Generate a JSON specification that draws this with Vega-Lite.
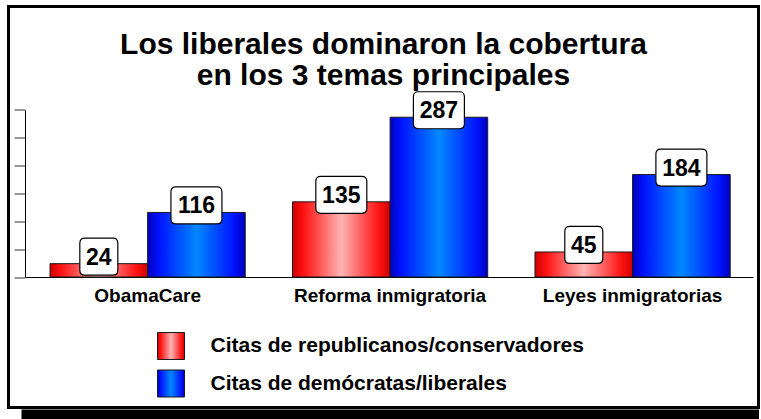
{
  "$schema": "https://vega.github.io/schema/vega-lite/v6.json",
  "width": 750,
  "height": 401,
  "autosize": "none",
  "padding": {"left": 8.5, "top": 6.5, "right": 2.5, "bottom": 11.5},
  "background": "white",
  "config": {
    "view": {"stroke": "black", "strokeWidth": 3, "fill": "white"},
    "font": "Liberation Sans"
  },
  "title": {
    "text": ["Los liberales dominaron la cobertura", "en los 3 temas principales"],
    "font": "Liberation Sans",
    "fontSize": 30,
    "fontWeight": "bold",
    "color": "black",
    "anchor": "middle",
    "lineHeight": 31,
    "baseline": "alphabetic",
    "offset": -108
  },
  "data": {
    "values": [
      {"tema": "ObamaCare", "serie": "Citas de republicanos/conservadores", "v": 24},
      {"tema": "ObamaCare", "serie": "Citas de demócratas/liberales", "v": 116},
      {"tema": "Reforma inmigratoria", "serie": "Citas de republicanos/conservadores", "v": 135},
      {"tema": "Reforma inmigratoria", "serie": "Citas de demócratas/liberales", "v": 287},
      {"tema": "Leyes inmigratorias", "serie": "Citas de republicanos/conservadores", "v": 45},
      {"tema": "Leyes inmigratorias", "serie": "Citas de demócratas/liberales", "v": 184}
    ]
  },
  "layer": [
    {
      "mark": {
        "type": "bar",
        "strokeWidth": 1,
        "fill": {"expr": "(datum.serie || datum.value) === 'Citas de republicanos/conservadores' ? {gradient: 'linear', x1: 0, y1: 0, x2: 1, y2: 0, stops: [{offset: 0, color: '#d00000'}, {offset: 0.12, color: '#ff1414'}, {offset: 0.5, color: '#ffb4b4'}, {offset: 0.88, color: '#ff1414'}, {offset: 1, color: '#d00000'}]} : {gradient: 'linear', x1: 0, y1: 0, x2: 1, y2: 0, stops: [{offset: 0, color: '#0000c0'}, {offset: 0.12, color: '#0014ff'}, {offset: 0.5, color: '#0088ff'}, {offset: 0.88, color: '#0014ff'}, {offset: 1, color: '#0000c0'}]}"}
      },
      "encoding": {
        "x": {
          "field": "tema", "type": "nominal", "sort": null,
          "scale": {"type": "band", "paddingInner": 0.195, "paddingOuter": 0.144, "align": 0.5946},
          "axis": {
            "title": null, "orient": "bottom", "offset": -130.5, "ticks": false, "tickSize": 0,
            "labelFont": "Liberation Sans", "labelFontSize": 19, "labelFontWeight": "bold",
            "labelColor": "black", "labelPadding": 9, "labelAngle": 0, "labelLimit": 0,
            "domainColor": "black", "domainWidth": 1, "domainDash": [0, 16.5, 728, 2000], "grid": false
          }
        },
        "xOffset": {"field": "serie", "type": "nominal", "sort": ["Citas de republicanos/conservadores", "Citas de demócratas/liberales"]},
        "y": {
          "field": "v", "type": "quantitative",
          "scale": {"domain": [-234.4, 485.9], "nice": false, "zero": false},
          "axis": {
            "title": null, "orient": "left", "offset": -16.5, "values": [0, 50, 100, 150, 200, 250, 300],
            "labels": false, "tickSize": 11, "tickColor": "#333333", "tickWidth": 1,
            "domainColor": "black", "domainWidth": 1, "domainDash": [0, 130.5, 167, 2000], "grid": false
          }
        },
        "y2": {"datum": 0},
        "stroke": {
          "field": "serie", "type": "nominal",
          "scale": {
            "domain": ["Citas de republicanos/conservadores", "Citas de demócratas/liberales"],
            "range": ["#1a1a1a", "#1a1a1a"]
          },
          "legend": {
            "orient": "none", "legendX": 148.5, "legendY": 325.5, "title": null,
            "symbolType": "square", "symbolSize": 729, "symbolStrokeWidth": 1, "symbolOpacity": 1,
            "labelFont": "Liberation Sans", "labelFontSize": 21, "labelFontWeight": "bold",
            "labelColor": "black", "labelOffset": 25.5, "rowPadding": 5.5, "padding": 0, "labelLimit": 0
          }
        }
      }
    },
    {
      "mark": {"type": "point", "filled": true, "fill": "white", "stroke": "black", "strokeWidth": 1.2, "opacity": 1, "size": 1369, "yOffset": -7},
      "encoding": {
        "x": {
          "field": "tema", "type": "nominal", "sort": null,
          "axis": {"orient": "bottom", "offset": 7, "labels": false, "ticks": false, "title": null,
                   "domainColor": "black", "domainWidth": 11, "domainDash": [0, 12.5, 800], "grid": false}
        },
        "xOffset": {"field": "serie", "type": "nominal", "sort": ["Citas de republicanos/conservadores", "Citas de demócratas/liberales"]},
        "y": {"field": "v", "type": "quantitative"},
        "shape": {
          "condition": {"test": "datum.v < 100", "value": "M -0.757,-1 L 0.757,-1 Q 1.027,-1 1.027,-0.73 L 1.027,0.73 Q 1.027,1 0.757,1 L -0.757,1 Q -1.027,1 -1.027,0.73 L -1.027,-0.73 Q -1.027,-1 -0.757,-1 Z"},
          "value": "M -1.108,-1 L 1.108,-1 Q 1.378,-1 1.378,-0.73 L 1.378,0.73 Q 1.378,1 1.108,1 L -1.108,1 Q -1.378,1 -1.378,0.73 L -1.378,-0.73 Q -1.378,-1 -1.108,-1 Z"
        }
      }
    },
    {
      "mark": {"type": "text", "font": "Liberation Sans", "fontSize": 23, "fontWeight": "bold", "color": "black", "baseline": "middle", "yOffset": -6},
      "encoding": {
        "x": {"field": "tema", "type": "nominal", "sort": null, "axis": null},
        "xOffset": {"field": "serie", "type": "nominal", "sort": ["Citas de republicanos/conservadores", "Citas de demócratas/liberales"]},
        "y": {"field": "v", "type": "quantitative"},
        "text": {"field": "v", "type": "quantitative"}
      }
    }
  ],
  "resolve": {"axis": {"x": "independent"}}
}
